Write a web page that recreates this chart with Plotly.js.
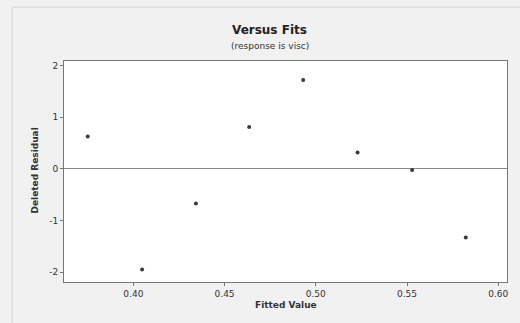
<!DOCTYPE html>
<html>
<head>
<meta charset="utf-8">
<script src="https://cdn.plot.ly/plotly-3.0.1.min.js"></script>
<style>html,body{margin:0;padding:0;background:#f1f1f1;}#chart{width:520px;height:323px;}</style>
</head>
<body>
<div id="chart"></div>
<script>
var fittedValues = [0.375, 0.4048, 0.4343, 0.4635, 0.4931, 0.5229, 0.5528, 0.5822];
var deletedResiduals = [0.63, -1.95, -0.67, 0.81, 1.72, 0.32, -0.02, -1.33];
var xTicks = [0.40, 0.45, 0.50, 0.55, 0.60];
var xTickText = ["0.40", "0.45", "0.50", "0.55", "0.60"];
var yTicks = [-2, -1, 0, 1, 2];
var yTickText = ["-2", "-1", "0", "1", "2"];

var font = "DejaVu Sans, Arial, sans-serif";
var trace = {
  type: "scatter", mode: "markers",
  x: fittedValues, y: deletedResiduals,
  marker: {size: 4, color: "#3a3a3a"},
  hoverinfo: "none"
};
var layout = {
  width: 520, height: 323,
  margin: {l: 64, r: 13, t: 61, b: 41},
  paper_bgcolor: "#f1f1f1", plot_bgcolor: "#ffffff",
  showlegend: false,
  font: {family: font, size: 9, color: "#333"},
  xaxis: {
    range: [0.362, 0.6048], tickvals: xTicks, ticktext: xTickText,
    ticks: "outside", ticklen: 3, tickcolor: "#777", showgrid: false, zeroline: false,
    showline: true, linecolor: "#777", linewidth: 1, mirror: true,
    ticklabelstandoff: 0,
    tickfont: {family: font, size: 9, color: "#333"}
  },
  yaxis: {
    range: [-2.19, 2.09], tickvals: yTicks, ticktext: yTickText,
    ticks: "outside", ticklen: 3, tickcolor: "#777", showgrid: false,
    zeroline: true, zerolinecolor: "#888", zerolinewidth: 1,
    showline: true, linecolor: "#777", linewidth: 1, mirror: true,
    tickfont: {family: font, size: 9, color: "#333"}
  },
  shapes: [{
    type: "rect", xref: "paper", yref: "paper",
    x0: -0.117, x1: 1.2, y0: -0.3, y1: 1.244,
    line: {color: "#d4d4d4", width: 1}, fillcolor: "rgba(0,0,0,0)", layer: "below"
  }],
  annotations: [
    {text: "<b>Versus Fits</b>", xref: "paper", yref: "paper", x: 0.465, y: 1.140,
     xanchor: "center", yanchor: "middle", showarrow: false,
     font: {family: font, size: 12, color: "#222"}},
    {text: "(response is visc)", xref: "paper", yref: "paper", x: 0.465, y: 1.068,
     xanchor: "center", yanchor: "middle", showarrow: false,
     font: {family: font, size: 9, color: "#333"}},
    {text: "<b>Deleted Residual</b>", xref: "paper", yref: "paper", x: -0.0655, y: 0.5045,
     xanchor: "center", yanchor: "middle", textangle: -90, showarrow: false,
     font: {family: font, size: 9, color: "#333"}},
    {text: "<b>Fitted Value</b>", xref: "paper", yref: "paper", x: 0.5, y: -0.104,
     xanchor: "center", yanchor: "middle", showarrow: false,
     font: {family: font, size: 9, color: "#333"}}
  ]
};
Plotly.newPlot("chart", [trace], layout, {staticPlot: true, displayModeBar: false});
</script>
</body>
</html>
